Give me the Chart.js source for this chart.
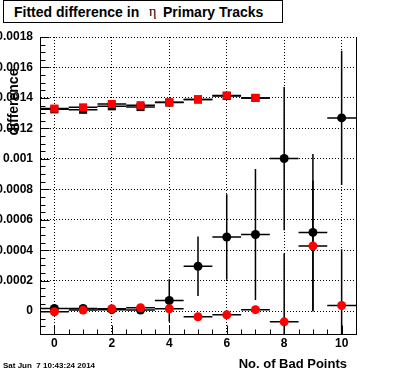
<!DOCTYPE html>
<html>
<head>
<meta charset="utf-8">
<script src="https://cdn.jsdelivr.net/npm/chart.js@4/dist/chart.umd.min.js"></script>
<style>
  body { margin: 0; background: #fff; overflow: hidden; }
  #wrap { position: relative; width: 396px; height: 372px; }
  #wrap canvas { position: absolute; left: 0; top: 0; }
  .txt { position: absolute; font-family: 'Liberation Sans', Arial, sans-serif; font-weight: bold; color: #000; white-space: pre; }
  #titleBox { position: absolute; left: 3px; top: 0; width: 280px; height: 23px; box-sizing: border-box; border: 1px solid #000; background: #fff; }
</style>
</head>
<body>
<div id="wrap">
  <canvas id="chart" width="396" height="372"></canvas>
  <div id="titleBox"></div>
  <span class="txt" style="left:14px; top:5px; font-size:14px; line-height:14px;">Fitted difference in</span>
  <span class="txt" style="left:149px; top:5px; font-size:14px; line-height:14px; font-family:'Liberation Serif', 'DejaVu Serif', serif; font-weight:normal;">η</span>
  <span class="txt" style="left:163px; top:5px; font-size:14px; line-height:14px;">Primary Tracks</span>
  <span class="txt" style="left:-37px; top:95px; width:100px; text-align:center; font-size:14px; line-height:14px; transform:rotate(-90deg);">difference</span>
  <span class="txt" style="right:49px; top:357px; font-size:13px; line-height:13px;">No. of Bad Points</span>
  <span class="txt" style="left:3px; top:362px; font-size:8px; line-height:8px;">Sat Jun  7 10:43:24 2014</span>
</div>
<script>
// 数据：bin 编号
const topBins = [0, 1, 2, 3, 4, 5, 6, 7];
const lowBins = [0, 1, 2, 3, 4, 5, 6, 7, 8, 9, 10];

// 上方一组（黑色被红色方块盖住）
const topBlack = [0.001325, 0.001322, 0.001345, 0.00134, 0.00137, 0.00139, 0.001413, 0.0014];
const topRed   = [0.00133, 0.001338, 0.00136, 0.001352, 0.001371, 0.00139, 0.001416, 0.0014];
const topErr   = [0.000005, 0.000005, 0.000005, 0.000005, 0.000005, 0.000005, 0.000005, 0.000005];

// 下方一组（圆点）
const lowBlack    = [0.000018, 0.000018, 0.00001, 0.000007, 0.00007, 0.000295, 0.000487, 0.000503, 0.001002, 0.000517, 0.001269];
const lowBlackErr = [0.00001, 0.00001, 0.00001, 0.00001, 0.00014, 0.000195, 0.00028, 0.00043, 0.00047, 0.000515, 0.00044];
const lowRed      = [-0.000004, 0.000007, 0.000016, 0.000022, 0.000016, -0.000037, -0.000024, 0.00001, -0.00007, 0.000428, 0.000037];
const lowRedErr   = [0.00001, 0.00001, 0.00001, 0.00001, 0.00002, 0.00002, 0.00002, 0.00002, 0.00045, 0.00043, 0.00037];

// 坐标轴刻度
const xTicks = [0, 2, 4, 6, 8, 10];
const yTicks = [0, 0.0002, 0.0004, 0.0006, 0.0008, 0.001, 0.0012, 0.0014, 0.0016, 0.0018];
const yTickLabels = ['0', '0.0002', '0.0004', '0.0006', '0.0008', '0.001', '0.0012', '0.0014', '0.0016', '0.0018'];

const toPoints = (xs, ys) => xs.map((v, i) => ({ x: v, y: ys[i] }));

// 误差棒（x 方向为半个 bin）
const errorBars = {
    id: 'errorBars',
    beforeDatasetsDraw(chart) {
        const { ctx, chartArea, scales: { x, y } } = chart;
        ctx.save();
        ctx.beginPath();
        ctx.rect(chartArea.left, chartArea.top, chartArea.right - chartArea.left, chartArea.bottom - chartArea.top);
        ctx.clip();
        ctx.strokeStyle = '#000';
        ctx.lineWidth = 1.5;
        chart.data.datasets.forEach(ds => {
            ds.data.forEach((p, i) => {
                const px = x.getPixelForValue(p.x);
                const py = y.getPixelForValue(p.y);
                const e = ds.errY[i];
                ctx.beginPath();
                ctx.moveTo(x.getPixelForValue(p.x - 0.5), py);
                ctx.lineTo(x.getPixelForValue(p.x + 0.5), py);
                ctx.moveTo(px, y.getPixelForValue(p.y + e));
                ctx.lineTo(px, y.getPixelForValue(p.y - e));
                ctx.stroke();
            });
        });
        ctx.restore();
    }
};

// 内侧刻度线和右边框
const frameTicks = {
    id: 'frameTicks',
    afterDraw(chart) {
        const { ctx, chartArea, scales: { x, y } } = chart;
        ctx.save();
        ctx.strokeStyle = '#000';
        ctx.lineWidth = 1;
        ctx.beginPath();
        const r = Math.round(chartArea.right) + 0.5;
        ctx.moveTo(r, chartArea.top);
        ctx.lineTo(r, chartArea.bottom);
        const l = Math.round(chartArea.left) + 0.5;
        for (let k = -3; k <= 36; k++) {
            const py = Math.round(y.getPixelForValue(k * 0.00005)) + 0.5;
            const len = k % 4 === 0 ? 9 : 5;
            ctx.moveTo(l, py);
            ctx.lineTo(l + len, py);
        }
        const b = Math.round(chartArea.bottom) + 0.5;
        for (let k = -1; k <= 21; k++) {
            const px = Math.round(x.getPixelForValue(k * 0.5)) + 0.5;
            const len = k % 4 === 0 ? 9 : 5;
            ctx.moveTo(px, b);
            ctx.lineTo(px, b - len);
        }
        ctx.stroke();
        ctx.restore();
    }
};

const tickFont = { family: "'Liberation Sans', Arial, sans-serif", size: 12, weight: 'bold' };

new Chart(document.getElementById('chart'), {
    type: 'scatter',
    data: {
        datasets: [
            { label: 'top black', data: toPoints(topBins, topBlack), errY: topErr, pointStyle: 'rect', pointRadius: 5.7, backgroundColor: '#000', order: 1 },
            { label: 'low black', data: toPoints(lowBins, lowBlack), errY: lowBlackErr, pointStyle: 'circle', pointRadius: 4.5, backgroundColor: '#000', order: 1 },
            { label: 'top red', data: toPoints(topBins, topRed), errY: topErr, pointStyle: 'rect', pointRadius: 5.7, backgroundColor: '#ff0000', order: 0 },
            { label: 'low red', data: toPoints(lowBins, lowRed), errY: lowRedErr, pointStyle: 'circle', pointRadius: 4.5, backgroundColor: '#ff0000', order: 0 }
        ]
    },
    options: {
        responsive: false,
        animation: false,
        devicePixelRatio: 1,
        layout: { padding: { top: 37, right: 40, left: 0, bottom: 0 } },
        elements: { point: { borderWidth: 0, hoverRadius: 4.5, hoverBorderWidth: 0 } },
        plugins: { legend: { display: false }, tooltip: { enabled: false } },
        events: [],
        scales: {
            x: {
                type: 'linear',
                min: -0.5,
                max: 10.5,
                afterBuildTicks: s => { s.ticks = xTicks.map(v => ({ value: v })); },
                afterFit: s => { s.height = 38; },
                ticks: { font: tickFont, color: '#000', padding: 2, maxRotation: 0, autoSkip: false, callback: v => String(v) },
                grid: { color: '#000', lineWidth: 1, drawTicks: false },
                border: { color: '#000', width: 1, dash: [1, 2] }
            },
            y: {
                type: 'linear',
                min: -0.00015,
                max: 0.0018,
                afterBuildTicks: s => { s.ticks = yTicks.map(v => ({ value: v })); },
                afterFit: s => { s.width = 40; },
                ticks: {
                    font: tickFont, color: '#000', padding: 7, autoSkip: false,
                    callback: (v) => { const i = yTicks.findIndex(t => Math.abs(t - v) < 1e-9); return i >= 0 ? yTickLabels[i] : ''; }
                },
                grid: { color: '#000', lineWidth: 1, drawTicks: false },
                border: { color: '#000', width: 1, dash: [1, 2] }
            }
        }
    },
    plugins: [errorBars, frameTicks]
});
</script>
</body>
</html>
